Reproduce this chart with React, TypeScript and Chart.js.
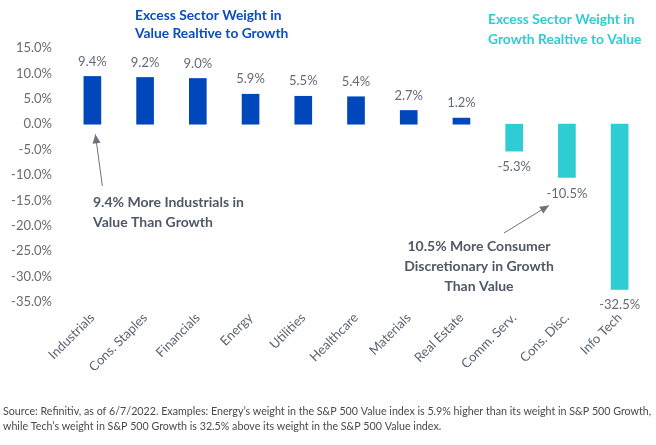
import React, { useEffect, useRef } from "react";
import { Chart, registerables } from "chart.js";

Chart.register(...registerables);

const categories = [
  "Industrials", "Cons. Staples", "Financials", "Energy", "Utilities", "Healthcare",
  "Materials", "Real Estate", "Comm. Serv.", "Cons. Disc.", "Info Tech",
];
const excessWeight = [9.4, 9.2, 9.0, 5.9, 5.5, 5.4, 2.7, 1.2, -5.3, -10.5, -32.5];
const yMin = -35;
const yMax = 15;
const yStep = 5;

const titleValue = ["Excess Sector Weight in", "Value Realtive to Growth"];
const titleGrowth = ["Excess Sector Weight in", "Growth Realtive to Value"];
const noteIndustrials = ["9.4% More Industrials in", "Value Than Growth"];
const noteConsDisc = ["10.5% More Consumer", "Discretionary in Growth", "Than Value"];
const sourceLines = [
  "Source: Refinitiv, as of 6/7/2022. Examples: Energy\u2019s weight in the S&P 500 Value index is 5.9% higher than its weight in S&P 500 Growth,",
  "while Tech\u2019s weight in S&P 500 Growth is 32.5% above its weight in the S&P 500 Value index.",
];

const BLUE = "#0047BB";
const TEAL = "#2ECDD3";
const GRAY = "#5B6470";
const FONT = "Lato, 'Noto Sans', sans-serif";

function arrow(ctx: CanvasRenderingContext2D, x1: number, y1: number, x2: number, y2: number) {
  ctx.save();
  ctx.strokeStyle = "#6B7280";
  ctx.fillStyle = "#6B7280";
  ctx.lineWidth = 1;
  ctx.beginPath();
  ctx.moveTo(x1, y1);
  ctx.lineTo(x2, y2);
  ctx.stroke();
  const a = Math.atan2(y2 - y1, x2 - x1);
  const len = 9;
  const w = 4;
  ctx.beginPath();
  ctx.moveTo(x2, y2);
  ctx.lineTo(x2 - len * Math.cos(a) + w * Math.sin(a), y2 - len * Math.sin(a) - w * Math.cos(a));
  ctx.lineTo(x2 - len * Math.cos(a) - w * Math.sin(a), y2 - len * Math.sin(a) + w * Math.cos(a));
  ctx.closePath();
  ctx.fill();
  ctx.restore();
}

const overlayPlugin = {
  id: "overlay",
  afterDraw(chart: any) {
    const ctx: CanvasRenderingContext2D = chart.ctx;
    const meta = chart.getDatasetMeta(0);
    const x = chart.scales.x;
    const y = chart.scales.y;
    ctx.save();
    // value labels
    ctx.font = `13px ${FONT}`;
    ctx.fillStyle = "#646B76";
    ctx.textAlign = "center";
    ctx.textBaseline = "middle";
    meta.data.forEach((bar: any, i: number) => {
      const v = excessWeight[i];
      const yy = v >= 0 ? bar.y - 15 : bar.y + 16;
      ctx.fillText(v.toFixed(1) + "%", bar.x, yy);
    });
    // titles
    ctx.font = `bold 13.8px ${FONT}`;
    ctx.textAlign = "left";
    ctx.fillStyle = "#0A4DBF";
    titleValue.forEach((t, i) => ctx.fillText(t, 135, 16 + i * 18));
    ctx.fillStyle = TEAL;
    titleGrowth.forEach((t, i) => ctx.fillText(t, 488, 20 + i * 20));
    // annotations
    ctx.font = `bold 14px ${FONT}`;
    ctx.fillStyle = "#4F5866";
    ctx.textAlign = "left";
    noteIndustrials.forEach((t, i) => ctx.fillText(t, 93, 202 + i * 20));
    ctx.textAlign = "center";
    noteConsDisc.forEach((t, i) => ctx.fillText(t, 479, 246 + i * 20));
    // arrows
    const x0 = x.getPixelForValue(0);
    arrow(ctx, x0 + 10, 186, x0 + 3, y.getPixelForValue(-2));
    const x9 = x.getPixelForValue(9);
    arrow(ctx, 504, 233, x9 - 18, y.getPixelForValue(-16));
    // source
    ctx.font = `10.7px ${FONT}`;
    ctx.fillStyle = "#4A4A4A";
    ctx.textAlign = "left";
    sourceLines.forEach((t, i) => ctx.fillText(t, 3, 412 + i * 15));
    ctx.restore();
  },
};

export default function App() {
  const ref = useRef<HTMLCanvasElement>(null);
  useEffect(() => {
    document.body.style.margin = "0";
    const chart = new Chart(ref.current as HTMLCanvasElement, {
      type: "bar",
      data: {
        labels: categories,
        datasets: [
          {
            data: excessWeight,
            backgroundColor: excessWeight.map((v) => (v >= 0 ? BLUE : TEAL)),
            barThickness: 17,
          },
        ],
      },
      options: {
        responsive: false,
        animation: false,
        layout: { padding: { top: 48, right: 10, left: 0, bottom: 0 } },
        plugins: { legend: { display: false }, tooltip: { enabled: false } },
        scales: {
          x: {
            grid: { display: false, drawTicks: false },
            border: { display: false },
            afterFit: (s: any) => { s.height = 143; },
            ticks: {
              minRotation: 45,
              maxRotation: 45,
              padding: 8,
              color: GRAY,
              font: { family: FONT, size: 13 },
            },
          },
          y: {
            min: yMin,
            max: yMax,
            grid: { display: false, drawTicks: false },
            border: { display: false },
            afterFit: (s: any) => { s.width = 66; },
            ticks: {
              stepSize: yStep,
              padding: 14,
              color: "#6B6B6B",
              font: { family: FONT, size: 13 },
              callback: (v: any) => Number(v).toFixed(1) + "%",
            },
          },
        },
      },
      plugins: [overlayPlugin],
    });
    return () => chart.destroy();
  }, []);
  return (
    <div style={{ width: 656, height: 445, background: "#fff" }}>
      <canvas ref={ref} width={656} height={445} />
    </div>
  );
}
